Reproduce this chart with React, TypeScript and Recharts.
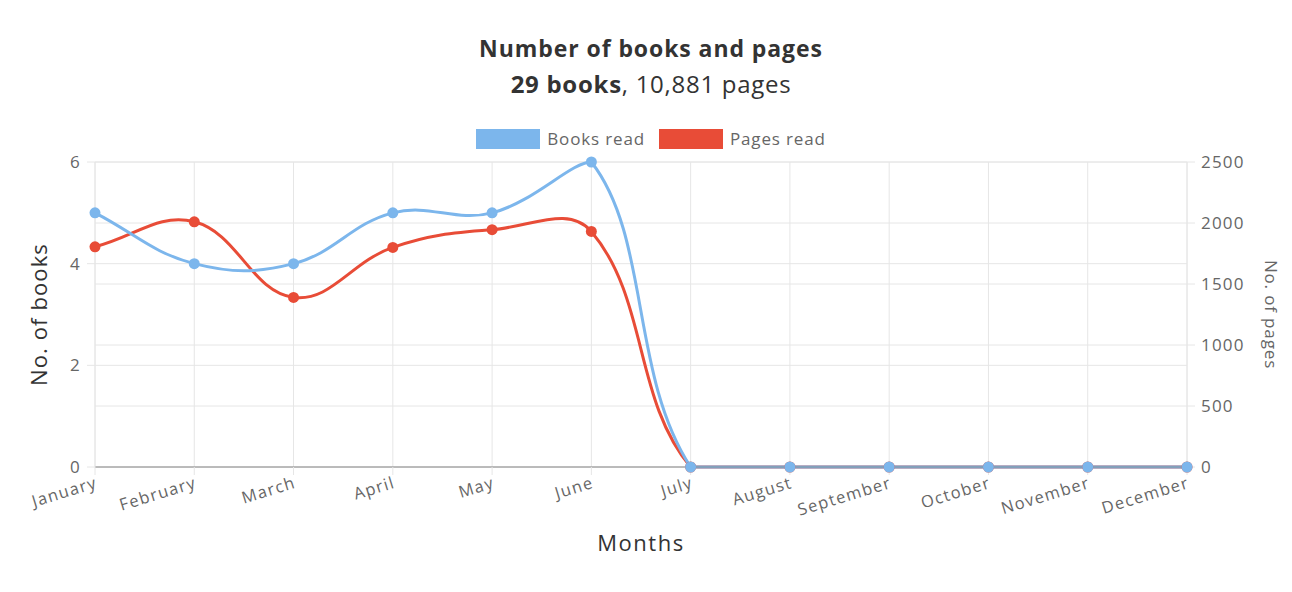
import React from 'react';
import { LineChart, Line, XAxis, YAxis, CartesianGrid } from 'recharts';

const months = ['January', 'February', 'March', 'April', 'May', 'June', 'July', 'August', 'September', 'October', 'November', 'December'];
const booksRead = [5, 4, 4, 5, 5, 6, 0, 0, 0, 0, 0, 0];
const pagesRead = [1805, 2010, 1390, 1800, 1945, 1931, 0, 0, 0, 0, 0, 0];
const booksTicks = [0, 2, 4, 6];
const pagesTicks = [0, 500, 1000, 1500, 2000, 2500];

const data = months.map((month, i) => ({ month, books: booksRead[i], pages: pagesRead[i] }));

const W = 1292;
const H = 592;
const TOP = 162;
const X_AXIS_H = 125;
const BOTTOM = H - X_AXIS_H;
const FONT = '"Open Sans", sans-serif';

const BLUE = '#7cb6ec';
const RED = '#e84c37';
const GRID = '#e6e6e6';

// chart.js-like spline (tension 0.4) with control points capped to the plot area
function splineCurve(top: number, bottom: number, tension = 0.4) {
  return (ctx: any) => {
    let pts: number[][] = [];
    const cap = (v: number) => Math.max(top, Math.min(bottom, v));
    return {
      areaStart() {},
      areaEnd() {},
      lineStart() { pts = []; },
      point(x: number, y: number) { pts.push([+x, +y]); },
      lineEnd() {
        const n = pts.length;
        if (!n) return;
        const ctrl = pts.map((p, i) => {
          const prev = pts[Math.max(0, i - 1)];
          const next = pts[Math.min(n - 1, i + 1)];
          const d01 = Math.hypot(p[0] - prev[0], p[1] - prev[1]);
          const d12 = Math.hypot(next[0] - p[0], next[1] - p[1]);
          let s01 = d01 / (d01 + d12);
          let s12 = d12 / (d01 + d12);
          if (isNaN(s01)) s01 = 0;
          if (isNaN(s12)) s12 = 0;
          const fa = tension * s01;
          const fb = tension * s12;
          return {
            px: p[0] - fa * (next[0] - prev[0]),
            py: cap(p[1] - fa * (next[1] - prev[1])),
            nx: p[0] + fb * (next[0] - prev[0]),
            ny: cap(p[1] + fb * (next[1] - prev[1])),
          };
        });
        ctx.moveTo(pts[0][0], pts[0][1]);
        for (let i = 0; i < n - 1; i++) {
          ctx.bezierCurveTo(ctrl[i].nx, ctrl[i].ny, ctrl[i + 1].px, ctrl[i + 1].py, pts[i + 1][0], pts[i + 1][1]);
        }
      },
    };
  };
}

const curve = splineCurve(TOP, BOTTOM);

const MonthTick = ({ x, y, payload }: any) => (
  <g transform={`translate(${x},${y})`}>
    <text x={0} y={0} dy={11} textAnchor="end" transform="rotate(-17)" fill="#666" fontSize={16.5} letterSpacing="0.08em" fontFamily={FONT}>
      {payload.value}
    </text>
  </g>
);

export default function App() {
  return (
    <div style={{ position: 'relative', width: W, height: H, background: '#fff', fontFamily: FONT }}>
      <style>{`body{margin:0}`}</style>
      <div style={{ position: 'absolute', left: 0, width: 1302, top: 32, textAlign: 'center', color: '#333', fontSize: 23, fontWeight: 700, letterSpacing: '0.04em' }}>
        Number of books and pages
      </div>
      <div style={{ position: 'absolute', left: 0, width: 1302, top: 67, textAlign: 'center', color: '#333', fontSize: 24, letterSpacing: '0.03em' }}>
        <b>29 books</b>, 10,881 pages
      </div>
      <div style={{ position: 'absolute', left: 0, width: 1302, top: 127, display: 'flex', justifyContent: 'center', alignItems: 'center', color: '#666', fontSize: 17, letterSpacing: '0.05em' }}>
        <span style={{ width: 64, height: 20, background: BLUE, display: 'inline-block', marginRight: 7 }} />
        <span style={{ marginRight: 14 }}>Books read</span>
        <span style={{ width: 64, height: 20, background: RED, display: 'inline-block', marginRight: 7 }} />
        <span>Pages read</span>
      </div>
      <div style={{ position: 'absolute', left: 0, top: 0 }}>
        <LineChart width={W} height={H} data={data} margin={{ top: TOP, right: 0, bottom: 0, left: 0 }}>
          <CartesianGrid yAxisId="books" stroke={GRID} vertical={true} horizontal={true} />
          <CartesianGrid yAxisId="pages" stroke={GRID} vertical={false} horizontal={true} />
          <XAxis
            dataKey="month"
            height={X_AXIS_H}
            interval={0}
            tickSize={8}
            tickLine={{ stroke: GRID }}
            axisLine={{ stroke: '#888' }}
            tick={<MonthTick />}
            label={{
              content: ({ viewBox }: any) => (
                <text x={viewBox.x + viewBox.width / 2} y={viewBox.y + 84} textAnchor="middle" fill="#333" fontSize={22} letterSpacing="0.07em" fontFamily={FONT}>
                  Months
                </text>
              ),
            }}
          />
          <YAxis
            yAxisId="books"
            orientation="left"
            width={95}
            domain={[0, 6]}
            ticks={booksTicks}
            tickSize={8}
            tickMargin={6}
            tickLine={{ stroke: GRID }}
            axisLine={{ stroke: GRID }}
            tick={{ fill: '#666', fontSize: 17, fontFamily: FONT, letterSpacing: '0.07em' }}
            label={{
              content: ({ viewBox }: any) => {
                const cx = viewBox.x + 38;
                const cy = viewBox.y + viewBox.height / 2;
                return (
                  <text x={cx} y={cy} transform={`rotate(-90 ${cx} ${cy})`} textAnchor="middle" dominantBaseline="central" fill="#333" fontSize={22} letterSpacing="0.05em" fontFamily={FONT}>
                    No. of books
                  </text>
                );
              },
            }}
          />
          <YAxis
            yAxisId="pages"
            orientation="right"
            width={105}
            domain={[0, 2500]}
            ticks={pagesTicks}
            tickSize={8}
            tickMargin={6}
            tickLine={{ stroke: GRID }}
            axisLine={{ stroke: GRID }}
            tick={{ fill: '#666', fontSize: 17, fontFamily: FONT, letterSpacing: '0.07em' }}
            label={{
              content: ({ viewBox }: any) => {
                const cx = viewBox.x + 84;
                const cy = viewBox.y + viewBox.height / 2;
                return (
                  <text x={cx} y={cy} transform={`rotate(90 ${cx} ${cy})`} textAnchor="middle" dominantBaseline="central" fill="#666" fontSize={17} letterSpacing="0.05em" fontFamily={FONT}>
                    No. of pages
                  </text>
                );
              },
            }}
          />
          <Line
            yAxisId="pages"
            dataKey="pages"
            type={curve as any}
            stroke={RED}
            strokeWidth={3}
            dot={{ r: 5.5, fill: RED, stroke: RED, strokeWidth: 0 }}
            activeDot={false}
            isAnimationActive={false}
          />
          <Line
            yAxisId="books"
            dataKey="books"
            type={curve as any}
            stroke={BLUE}
            strokeWidth={3}
            dot={{ r: 5.5, fill: BLUE, stroke: BLUE, strokeWidth: 0 }}
            activeDot={false}
            isAnimationActive={false}
          />
        </LineChart>
      </div>
    </div>
  );
}
